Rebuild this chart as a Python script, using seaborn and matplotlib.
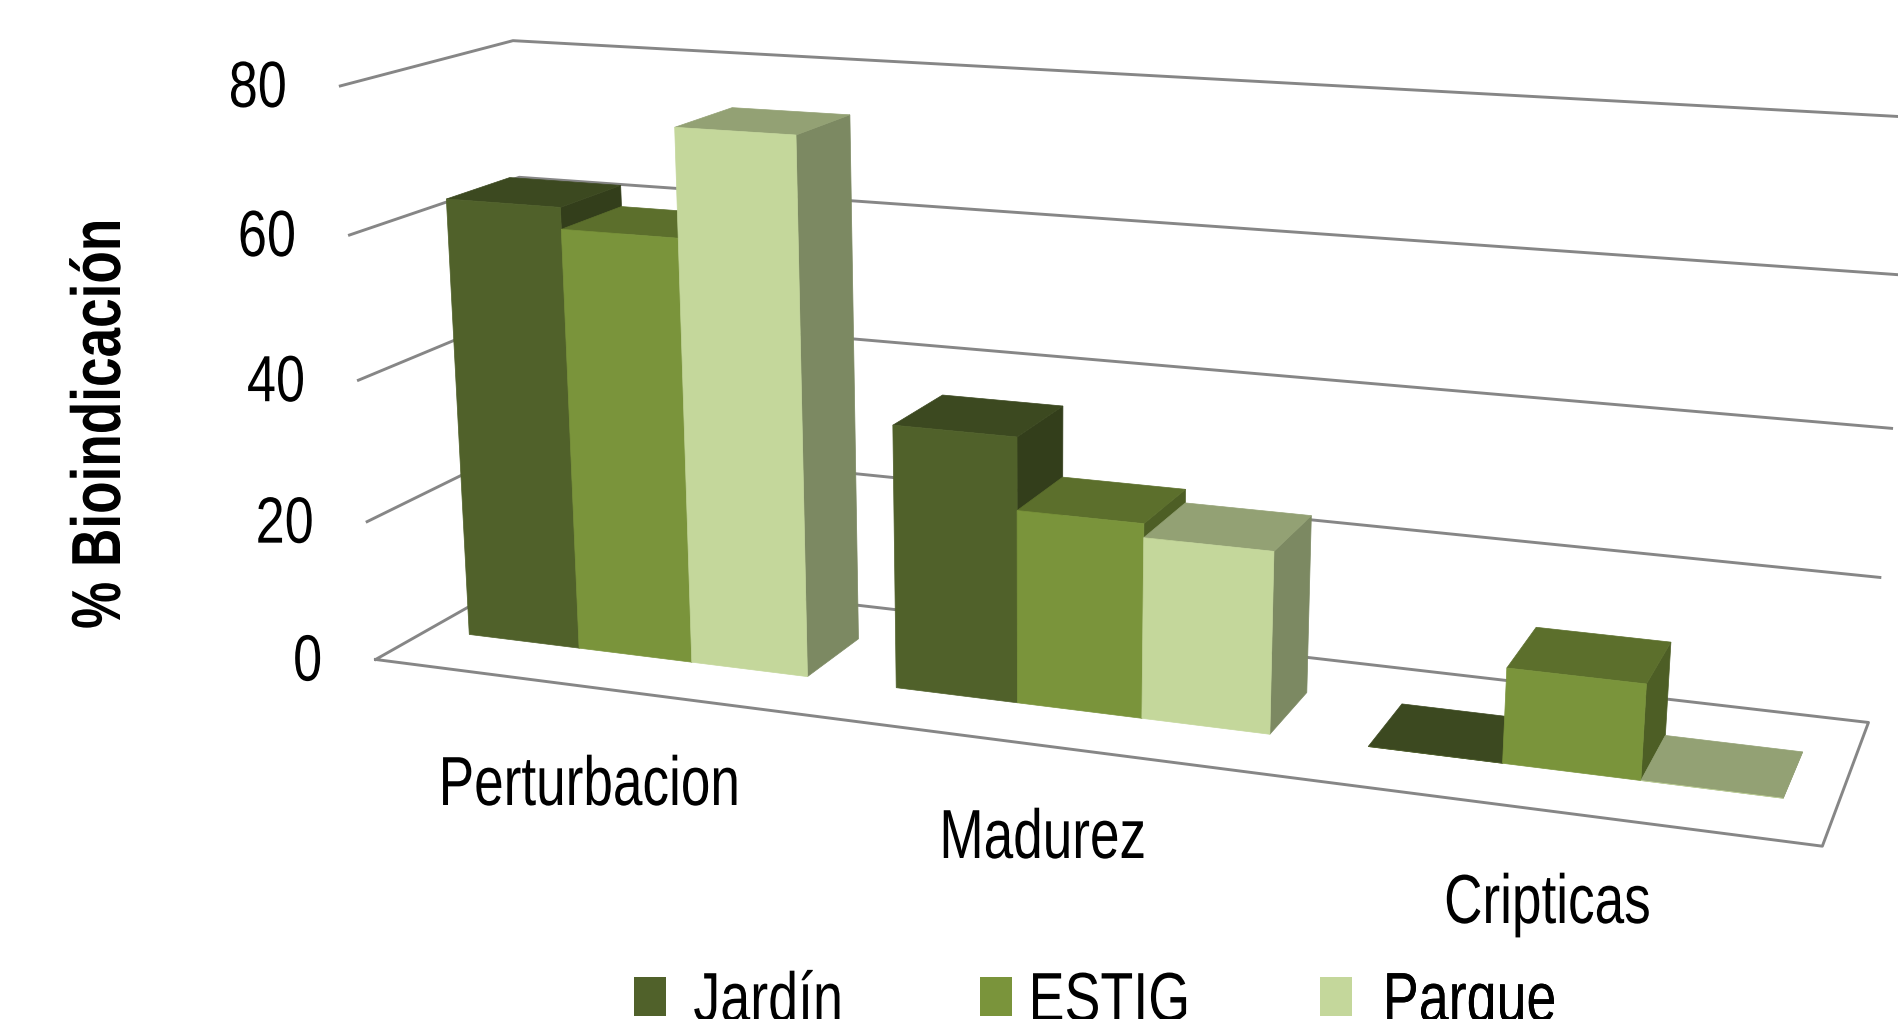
import numpy as np
import pandas as pd
import matplotlib
matplotlib.use("Agg")
import matplotlib.pyplot as plt
from matplotlib.patches import Polygon, Patch
from matplotlib.patheffects import AbstractPathEffect
from matplotlib.transforms import Affine2D
import seaborn as sns

# Chart data
categories = ["Perturbacion", "Madurez", "Cripticas"]
series_names = ["Jardín", "ESTIG", "Parque"]
jardin = [62.8, 36.8, 0]
estig = [59.8, 26.8, 12.8]
parque = [74.7, 24.9, 0]
value_ticks = [0, 20, 40, 60, 80]
axis_title = "% Bioindicación"

# Perspective camera: (category, depth, value) -> canvas pixels
CAMERA = np.array([
    [1.179765, 0.210979, -0.052638, 0.375617],
    [0.062592, -0.039137, -0.577984, 0.660485],
    [-0.146489, 0.091847, -0.050948, 1.0],
])
N_CATEGORIES = 3
VALUE_MAX = 80
CLUSTER_MARGIN = 0.10
DEPTH_FRONT, DEPTH_BACK = 0.31, 0.69

# Shading applied to the sides of a column, relative to its front face
TOP_SHADE, SIDE_SHADE = 0.75, 0.635

GRID_COLOR = "#868686"
TEXT_COLOR = "#000000"
FONT = "Liberation Sans"


def project(u, d, v):
    h = CAMERA @ np.array([u / N_CATEGORIES, d, v / VALUE_MAX, 1.0])
    return h[0] / h[2] * 1000, h[1] / h[2] * 1000


class Condensed(AbstractPathEffect):
    """Squeeze glyphs along the writing direction, for a narrow Arial look."""

    def __init__(self, factor, shift=0.0):
        super().__init__()
        self.factor = factor
        self.shift = shift

    def draw_path(self, renderer, gc, tpath, affine, rgbFace=None):
        squeezed = Affine2D().scale(self.factor, 1.0) + affine + Affine2D().translate(self.shift, 0.0)
        renderer.draw_path(gc, tpath, squeezed, rgbFace)


sns.set_theme(style="white")
plt.rcParams["font.family"] = [FONT, "DejaVu Sans"]
palette = sns.color_palette(["#50612A", "#7A943B", "#C4D79B"])

fig = plt.figure(figsize=(18.99, 10.20), dpi=100)
ax = fig.add_axes([0, 0, 1, 1])
renderer = fig.canvas.get_renderer()


def condensed_text(x, y, s, size, factor, align="left", **kw):
    t = ax.text(x, y, s, fontsize=size, ha="left", va="baseline",
                color=TEXT_COLOR, **kw)
    width = t.get_window_extent(renderer).width * factor
    shift = {"left": 0.0, "center": width / 2, "right": width}[align]
    t.set_x(x - shift)
    t.set_path_effects([Condensed(factor)])
    return t


def frame_line(points):
    xy = np.array([project(*p) for p in points])
    frame = pd.DataFrame({"x": xy[:, 0], "y": xy[:, 1]})
    sns.lineplot(data=frame, x="x", y="y", sort=False, estimator=None,
                 color=GRID_COLOR, linewidth=2.1, ax=ax, legend=False,
                 solid_capstyle="projecting", zorder=1)


# Floor outline and the gridlines on the side and back walls
frame_line([(0, 0, 0), (N_CATEGORIES, 0, 0), (N_CATEGORIES, 1, 0), (0, 1, 0), (0, 0, 0)])
for tick in value_ticks[1:]:
    frame_line([(0, 0, tick), (0, 1, tick), (N_CATEGORIES, 1, tick)])

# Columns, painted left to right so nearer ones cover the ones behind
bar_width = (1 - 2 * CLUSTER_MARGIN) / len(series_names)
for i in range(len(categories)):
    for k, values in enumerate([jardin, estig, parque]):
        a = i + CLUSTER_MARGIN + k * bar_width
        b = a + bar_width
        v = values[i]
        base = np.array(palette[k])
        faces = [
            ([(b, DEPTH_FRONT, 0), (b, DEPTH_BACK, 0), (b, DEPTH_BACK, v), (b, DEPTH_FRONT, v)], base * SIDE_SHADE),
            ([(a, DEPTH_FRONT, v), (b, DEPTH_FRONT, v), (b, DEPTH_BACK, v), (a, DEPTH_BACK, v)], base * TOP_SHADE),
            ([(a, DEPTH_FRONT, 0), (b, DEPTH_FRONT, 0), (b, DEPTH_FRONT, v), (a, DEPTH_FRONT, v)], base),
        ]
        for corners, colour in faces:
            ax.add_patch(Polygon([project(*c) for c in corners], closed=True,
                                 facecolor=colour, edgecolor=colour, linewidth=0.5, zorder=2))

ax.set_xlim(0, 1899)
ax.set_ylim(1020, 0)
ax.set_xlabel("")
ax.set_ylabel("")
ax.set_axis_off()

# Value labels beside the side wall
for tick in value_ticks:
    px, py = project(0, 0, tick)
    condensed_text(px - 53.5, py + 21, str(tick), 47, 0.80, align="right")

# Category labels under the floor
label_anchors = [(589.5, 806), (1043, 859), (1547.5, 924)]
for name, (lx, ly) in zip(categories, label_anchors):
    condensed_text(lx, ly, name, 50, 0.765, align="center")

# Rotated axis title
condensed_text(120, 630, axis_title, 50, 0.765, rotation=90,
               rotation_mode="anchor", fontweight="bold")

# Legend along the bottom edge: one spaced entry per series
legend_x = [634, 980, 1320]
legend_pad = [0.395, 0.24, 0.445]
for colour, name, x0, pad in zip(palette, series_names, legend_x, legend_pad):
    legend = ax.legend([Patch(facecolor=colour, edgecolor="none")], [name],
                       frameon=False, fontsize=50, loc="lower left",
                       bbox_to_anchor=(x0, 1036), bbox_transform=ax.transData,
                       borderpad=0, borderaxespad=0, handlelength=0.46,
                       handleheight=0.475, handletextpad=pad)
    for t in legend.get_texts():
        t.set_color(TEXT_COLOR)
        t.set_path_effects([Condensed(0.775)])
    ax.add_artist(legend)

fig.savefig("out.png", dpi=100, facecolor="white")
